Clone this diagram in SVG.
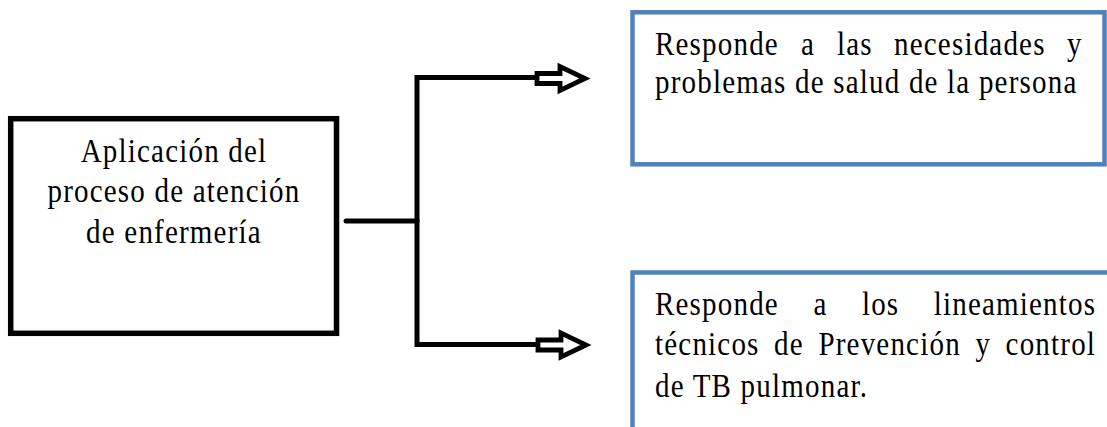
<svg xmlns="http://www.w3.org/2000/svg" width="1107" height="427" viewBox="0 0 1107 427">
<style>
.t{font-family:"Liberation Serif","Times New Roman",serif;font-size:29px;letter-spacing:1.2px;fill:#000}
.c{text-anchor:middle}
.blk{fill:#fff;stroke:#000;stroke-width:5.5}
.blu{fill:#fff;stroke:#4F81BD;stroke-width:4.5}
.ln{fill:none;stroke:#000;stroke-width:5}
.arr{fill:#fff;stroke:#000;stroke-width:4.8;stroke-linejoin:miter}
</style>
<defs>
<path id="blockArrow" class="arr" d="M0,-5 L23,-5 L23,-12 L48,0 L23,12 L23,5 L0,5 Z"/>
</defs>
<rect width="1107" height="427" fill="#fff"/>
<g id="connectors">
<line class="ln" x1="346" y1="221" x2="417" y2="221" stroke-linecap="round" stroke-width="4.5"/>
<path class="ln" d="M537,77.5 H417 V344.5 H537"/>
<use href="#blockArrow" transform="translate(537,78.5)"/>
<use href="#blockArrow" transform="translate(538,345)"/>
</g>
<g id="node-aplicacion">
<rect class="blk" x="10.7" y="118.7" width="325.8" height="214.6"/>
<text class="t c" x="174" y="0" transform="matrix(1,0,0,1.13,0,162)">Aplicación del</text>
<text class="t c" x="174" y="0" transform="matrix(1,0,0,1.13,0,202)">proceso de atención</text>
<text class="t c" x="174" y="0" transform="matrix(1,0,0,1.13,0,243)">de enfermería</text>
</g>
<g id="node-necesidades">
<rect class="blu" x="632.5" y="12.3" width="472" height="152"/>
<text class="t" y="0" transform="matrix(1,0,0,1.13,0,55)"><tspan x="655">Responde</tspan><tspan x="801">a</tspan><tspan x="837">las</tspan><tspan x="894">necesidades</tspan><tspan x="1067">y</tspan></text>
<text class="t" x="655" y="0" transform="matrix(1,0,0,1.13,0,92.5)">problemas de salud de la persona</text>
</g>
<g id="node-lineamientos">
<rect class="blu" x="632.5" y="272.5" width="490" height="200"/>
<text class="t" y="0" transform="matrix(1,0,0,1.13,0,315)"><tspan x="655">Responde</tspan><tspan x="813.4">a</tspan><tspan x="861.9">los</tspan><tspan x="933.7">lineamientos</tspan></text>
<text class="t" y="0" transform="matrix(1,0,0,1.13,0,354.5)"><tspan x="655">técnicos</tspan><tspan x="774.1">de</tspan><tspan x="818.4">Prevención</tspan><tspan x="975.4">y</tspan><tspan x="1005.6">control</tspan></text>
<text class="t" x="655" y="0" transform="matrix(1,0,0,1.13,0,396.7)">de TB pulmonar.</text>
</g>
</svg>
